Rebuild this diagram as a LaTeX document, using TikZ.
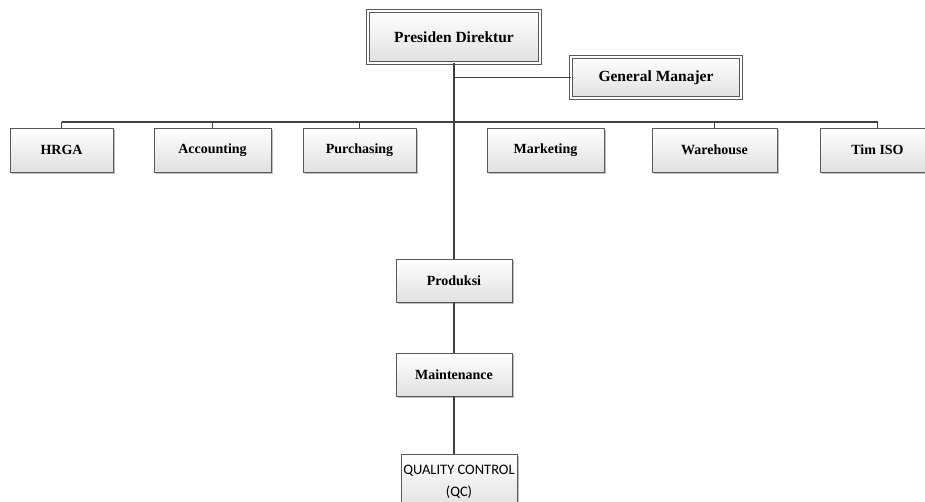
\documentclass[tikz,border=0pt]{standalone}
\usepackage{fontspec}
\setmainfont{Liberation Serif}
\newfontfamily\qcfont{Carlito}
\usetikzlibrary{shadows}

\begin{document}
\begin{tikzpicture}[x=1pt, y=1pt,
    garis/.style={draw=black!75, line width=1.1pt},
    kotak/.style={draw=black!65, line width=0.9pt, top color=white, bottom color=black!12,
        minimum height=44, inner sep=2pt, font=\bfseries\fontsize{14}{16}\selectfont,
        drop shadow={shadow xshift=2pt, shadow yshift=-2pt, fill=black!25, opacity=1}},
    kotakganda/.style={kotak, double=white, double distance=2.5pt, line width=0.9pt,
        font=\bfseries\fontsize{15.5}{18}\selectfont}]
    \useasboundingbox (0,0) rectangle (925,502);

    % 1. Pimpinan
    \node[kotakganda, minimum width=172, minimum height=52] (pd) at (454,465) {Presiden Direktur};
    \node[kotakganda, minimum width=170, minimum height=41] (gm) at (656,424.5) {General Manajer};

    % 2. Bagian-bagian
    \node[kotak, minimum width=103] (hrga) at (61.5,352) {HRGA};
    \node[kotak, minimum width=117] (acc) at (212.5,352) {Accounting};
    \node[kotak, minimum width=113] (pur) at (359.5,352) {Purchasing};
    \node[kotak, minimum width=117] (mkt) at (545.5,352) {Marketing};
    \node[kotak, minimum width=125] (wh) at (714.5,352) {Warehouse};
    \node[kotak, minimum width=115] (iso) at (877.5,352) {Tim ISO};

    % 3. Jalur produksi
    \node[kotak, minimum width=116, minimum height=43] (prd) at (454,221.5) {Produksi};
    \node[kotak, minimum width=116, minimum height=43] (mnt) at (454,127.5) {Maintenance};
    \node[kotak, minimum width=116, minimum height=56, inner sep=1pt, align=center,
        font=\qcfont\fontsize{14.5}{22}\selectfont] (qc) at (459,20) {QUALITY CONTROL\\(QC)};

    % 4. Garis penghubung
    \coordinate (bus) at (0,380);
    \draw[garis] (pd.south) -- (prd.north);
    \draw[garis] (pd.south |- gm.west) -- (gm.west);
    \draw[garis] (hrga.north |- bus) -- (iso.north |- bus);
    \foreach \k in {hrga, acc, pur, wh, iso} {
        \draw[garis] (\k.north |- bus) -- (\k.north);
    }
    \draw[garis] (prd.south) -- (mnt.north);
    \draw[garis] (mnt.south) -- (mnt.south |- qc.north);
\end{tikzpicture}
\end{document}
